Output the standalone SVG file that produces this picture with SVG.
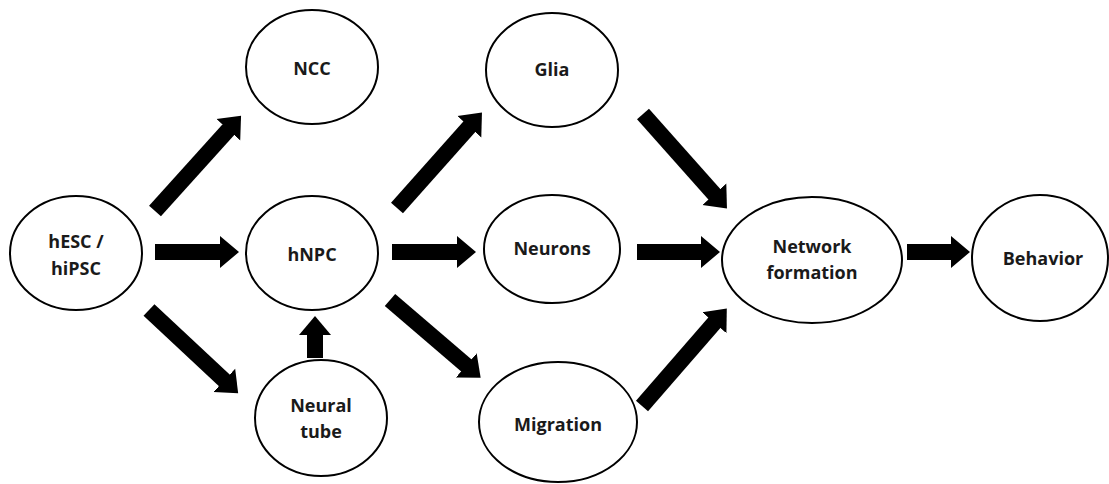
<svg xmlns="http://www.w3.org/2000/svg" width="1109" height="484" viewBox="0 0 1109 484">
<style>
.node ellipse{fill:#fff;stroke:#000;stroke-width:2}
.node text{font-family:"Open Sans","Liberation Sans",sans-serif;font-weight:700;font-size:18px;fill:#1a1a1a;text-anchor:middle}
.arr{stroke:#000;stroke-width:16;fill:none;marker-end:url(#head)}
</style>
<defs>
<marker id="head" markerUnits="userSpaceOnUse" viewBox="0 0 20 34" markerWidth="20" markerHeight="34" refX="1" refY="17" orient="auto">
<path d="M0,1 L19,17 L0,33 Z" fill="#000"/>
</marker>
</defs>
<rect width="1109" height="484" fill="#fff"/>
<g id="connectors">
<line class="arr" x1="155" y1="252" x2="221" y2="252"/>
<line class="arr" x1="392" y1="252" x2="458" y2="252"/>
<line class="arr" x1="637" y1="252" x2="702" y2="252"/>
<line class="arr" x1="907" y1="252" x2="952" y2="252"/>
<line class="arr" x1="315" y1="358" x2="315" y2="334"/>
<line class="arr" x1="155" y1="211" x2="229" y2="129"/>
<line class="arr" x1="149" y1="310" x2="225" y2="381"/>
<line class="arr" x1="397" y1="208" x2="470" y2="126"/>
<line class="arr" x1="643" y1="114" x2="715" y2="195"/>
<line class="arr" x1="390" y1="300" x2="467" y2="366"/>
<line class="arr" x1="642" y1="406" x2="715" y2="322"/>
</g>
<g id="hesc" class="node"><ellipse cx="76" cy="253" rx="66" ry="57"/><text x="76" y="248">hESC /</text><text x="76" y="275">hiPSC</text></g>
<g id="ncc" class="node"><ellipse cx="312" cy="67" rx="66" ry="57"/><text x="312" y="75">NCC</text></g>
<g id="hnpc" class="node"><ellipse cx="312" cy="253" rx="66" ry="57"/><text x="312" y="261">hNPC</text></g>
<g id="neuraltube" class="node"><ellipse cx="321" cy="418" rx="66" ry="58"/><text x="321" y="412">Neural</text><text x="321" y="438">tube</text></g>
<g id="glia" class="node"><ellipse cx="552" cy="70" rx="66" ry="57"/><text x="552" y="76">Glia</text></g>
<g id="neurons" class="node"><ellipse cx="552" cy="249" rx="68" ry="54"/><text x="552" y="255">Neurons</text></g>
<g id="migration" class="node"><ellipse cx="558" cy="422" rx="79" ry="60"/><text x="558" y="431">Migration</text></g>
<g id="network" class="node"><ellipse cx="812" cy="260" rx="90" ry="63"/><text x="812" y="253">Network</text><text x="812" y="279">formation</text></g>
<g id="behavior" class="node"><ellipse cx="1040" cy="258" rx="68" ry="63"/><text x="1043" y="265">Behavior</text></g>
</svg>
